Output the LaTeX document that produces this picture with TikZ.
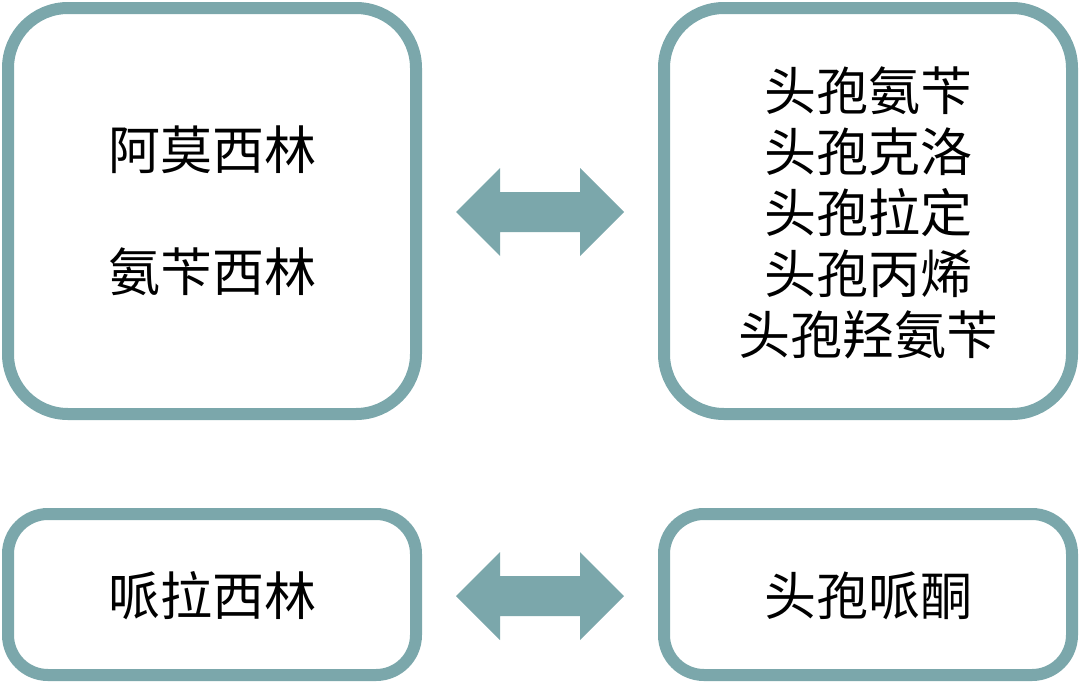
\documentclass[tikz,border=0pt]{standalone}
\usepackage{fontspec}
\newfontfamily\cjk{Noto Sans CJK SC}
\definecolor{teal1}{HTML}{7BA7AB}
\tikzset{
 box/.style={draw=teal1,line width=12pt},
 txt/.style={font=\cjk\fontsize{52}{61}\selectfont,align=center,text=black},
 dbl/.pic={\fill[teal1] (-84,0) -- (-40,-44) -- (-40,-20) -- (40,-20) -- (40,-44) -- (84,0) -- (40,44) -- (40,20) -- (-40,20) -- (-40,44) -- cycle;}
}
\begin{document}
\begin{tikzpicture}[x=1pt,y=-1pt]
\useasboundingbox (0,0) rectangle (1080,683);
\draw[box,rounded corners=60pt] (8,8) rectangle (416,414);
\draw[box,rounded corners=60pt] (664,8) rectangle (1072,414);
\draw[box,rounded corners=40pt] (8,514) rectangle (416,675);
\draw[box,rounded corners=40pt] (664,514) rectangle (1072,675);
\node[txt] (a) at (212,211) {阿莫西林\\[61pt]氨苄西林};
\node[txt] (b) at (868,213) {头孢氨苄\\头孢克洛\\头孢拉定\\头孢丙烯\\头孢羟氨苄};
\node[txt] (c) at (212,596) {哌拉西林};
\node[txt] (d) at (868,596) {头孢哌酮};
\pic at (540,212) {dbl};
\pic at (540,596) {dbl};
\end{tikzpicture}
\end{document}
